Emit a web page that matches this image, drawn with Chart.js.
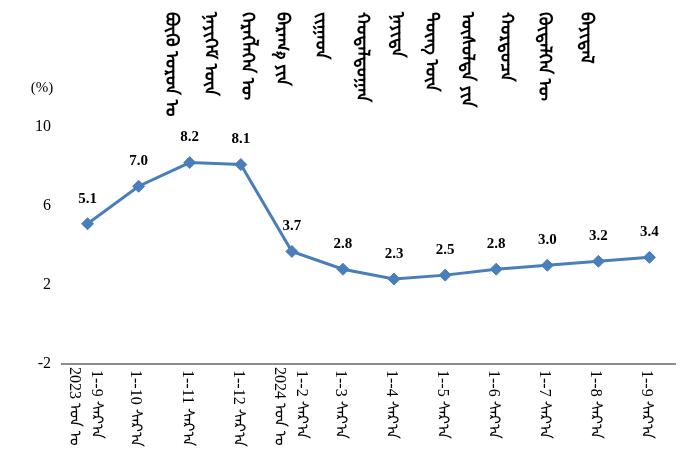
<!DOCTYPE html>
<html>
<head>
<meta charset="utf-8">
<script src="https://cdn.jsdelivr.net/npm/chart.js@4"></script>
<style>
html,body{margin:0;padding:0;background:#fff;}
#wrap{width:695px;height:465px;position:relative;}
</style>
</head>
<body>
<div id="wrap"><canvas id="c" width="695" height="465"></canvas></div>
<script>
// ---- data ----
const titleColumns = [
  'ᠪᠦᠬᠦ ᠣᠷᠣᠨ ᠤ',
  'ᠨᠡᠶᠢᠭᠡᠮ ᠦᠨ',
  'ᠬᠡᠷᠡᠭᠯᠡᠭᠡᠨ ᠦ',
  'ᠪᠠᠷᠠᠭ᠎ᠠ ᠶᠢᠨ',
  'ᠵᠢᠭᠠᠳ',
  'ᠬᠤᠳᠠᠯᠳᠤᠭᠠᠨ',
  'ᠨᠡᠶᠢᠲᠡ',
  'ᠳᠦᠩ ᠦᠨ',
  'ᠥᠰᠦᠯᠲᠡ ᠶᠢᠨ',
  'ᠬᠤᠷᠳᠤᠴᠠ',
  'ᠬᠥᠳᠡᠯᠭᠡᠨ ᠦ',
  'ᠪᠠᠶᠢᠳᠠᠯ'
];
const monthLabels = ['1--9 ᠰᠠᠷ᠎ᠠ','1--10 ᠰᠠᠷ᠎ᠠ','1--11 ᠰᠠᠷ᠎ᠠ','1--12 ᠰᠠᠷ᠎ᠠ','1--2 ᠰᠠᠷ᠎ᠠ','1--3 ᠰᠠᠷ᠎ᠠ','1--4 ᠰᠠᠷ᠎ᠠ','1--5 ᠰᠠᠷ᠎ᠠ','1--6 ᠰᠠᠷ᠎ᠠ','1--7 ᠰᠠᠷ᠎ᠠ','1--8 ᠰᠠᠷ᠎ᠠ','1--9 ᠰᠠᠷ᠎ᠠ'];
const yearLabels = ['2023 ᠣᠨ ᠤ','','','','2024 ᠣᠨ ᠤ','','','','','','',''];
const values = [5.1, 7.0, 8.2, 8.1, 3.7, 2.8, 2.3, 2.5, 2.8, 3.0, 3.2, 3.4];
const yMin = -2, yMax = 10, yStep = 4;
const unitLabel = '(%)';

const SERIF = '"Liberation Serif","Times New Roman",serif';
const MONG = '"Noto Sans Mongolian","Mongolian Baiti","DejaVu Sans",sans-serif';
const LABELFONT = '"Liberation Serif","Noto Sans Mongolian",serif';

const overlay = {
  id: 'overlay',
  afterDraw(chart) {
    const ctx = chart.ctx;
    const meta = chart.getDatasetMeta(0);
    const xs = chart.scales.x;
    ctx.save();
    // data labels
    ctx.fillStyle = '#000';
    ctx.font = 'bold 15px ' + SERIF;
    ctx.textAlign = 'center';
    ctx.textBaseline = 'middle';
    meta.data.forEach((p, i) => {
      ctx.fillText(values[i].toFixed(1), p.x, p.y - 25);
    });
    // unit label
    ctx.font = '15px ' + SERIF;
    ctx.fillText(unitLabel, 42, 88);
    // x labels, rotated clockwise (vertical, top to bottom)
    const drawVert = (txt, x, y, font) => {
      ctx.save();
      ctx.translate(x, y);
      ctx.rotate(Math.PI / 2);
      ctx.font = font;
      ctx.textAlign = 'left';
      ctx.textBaseline = 'middle';
      ctx.fillText(txt, 0, 0);
      ctx.restore();
    };
    monthLabels.forEach((m, i) => {
      const x = xs.getPixelForValue(i);
      if (yearLabels[i]) {
        drawVert(yearLabels[i], x - 13, 367, '16px ' + LABELFONT);
        drawVert(m, x + 9, 370, '16px ' + LABELFONT);
      } else {
        drawVert(m, x - 3, 370, '16px ' + LABELFONT);
      }
    });
    // title columns
    const colX = [172, 211, 248, 283, 322, 363, 398, 432, 468, 507, 545, 587];
    titleColumns.forEach((t, i) => {
      drawVert(t, colX[i], 12, 'bold 18px ' + MONG);
    });
    ctx.restore();
  }
};

new Chart(document.getElementById('c'), {
  type: 'line',
  data: {
    labels: monthLabels,
    datasets: [{
      data: values,
      borderColor: '#4a7ebb',
      backgroundColor: '#4a7ebb',
      borderWidth: 3,
      pointStyle: 'rectRot',
      pointRadius: 6,
      pointBorderWidth: 1,
      pointBackgroundColor: '#4a7ebb',
      pointBorderColor: '#4a7ebb',
      tension: 0,
      fill: false
    }]
  },
  options: {
    responsive: false,
    animation: false,
    events: [],
    layout: { padding: { left: 0, right: 20, top: 127, bottom: 0 } },
    plugins: { legend: { display: false }, tooltip: { enabled: false }, title: { display: false } },
    scales: {
      x: {
        offset: true,
        grid: { display: false, drawTicks: false },
        border: { display: true, color: '#8c8c8c', width: 2 },
        ticks: { display: false },
        afterFit(s) { s.height = 101; }
      },
      y: {
        min: yMin, max: yMax,
        grid: { display: false, drawTicks: false },
        border: { display: false },
        ticks: { stepSize: yStep, padding: 11, color: '#000', font: { family: SERIF, size: 16 } },
        afterFit(s) { s.width = 62; }
      }
    }
  },
  plugins: [overlay]
});
</script>
</body>
</html>
